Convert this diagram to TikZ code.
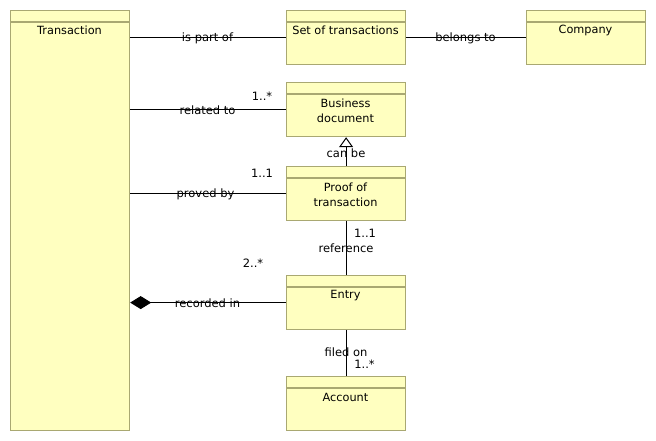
\documentclass[tikz,border=0pt]{standalone}
\usepackage{fontspec}
\setmainfont{DejaVu Sans}
\usetikzlibrary{arrows.meta}
\definecolor{classfill}{HTML}{FFFFC0}
\definecolor{classline}{HTML}{A9A872}
\tikzset{
  classbox/.style={draw=classline, fill=classfill, line width=1.2pt, anchor=north west,
    minimum width=119pt, minimum height=54pt, inner sep=0pt},
  tallbox/.style={classbox, minimum height=420pt},
  classname/.style={font=\fontsize{11.3}{15}\selectfont, align=center, inner sep=0pt},
  assoc/.style={font=\fontsize{11.5}{14}\selectfont, inner sep=0pt},
  assocline/.style={line width=1pt},
}

\begin{document}
\begin{tikzpicture}[x=1pt, y=-1pt]
\useasboundingbox (0,0) rectangle (656,441);

\node[tallbox] (trans) at (10,10) {};
\node[classbox] (set) at (286,10) {};
\node[classbox] (comp) at (526,10) {};
\node[classbox] (bdoc) at (286,82) {};
\node[classbox] (proof) at (286,166) {};
\node[classbox] (entry) at (286,275) {};
\node[classbox] (acct) at (286,376) {};
\foreach \c in {trans, set, comp, bdoc, proof, entry, acct}
  \draw[classline, line width=1.2pt] ([yshift=-12pt]\c.north west) -- ([yshift=-12pt]\c.north east);

\node[classname] (trans-n) at (69.5,30) {Transaction};
\node[classname] (set-n) at (345.5,30) {Set of transactions};
\node[classname] (comp-n) at (585.5,30) {Company};
\node[classname] (bdoc-n) at (345.5,110.5) {Business\\document};
\node[classname] (proof-n) at (345.5,194.5) {Proof of\\transaction};
\node[classname] (entry-n) at (345.5,296) {Entry};
\node[classname] (acct-n) at (345.5,397) {Account};

\draw[assocline] (set.west -| trans.east) -- (set.west) (set.east) -- (comp.west);
\draw[assocline] (bdoc.west -| trans.east) -- (bdoc.west);
\draw[assocline] (proof.west -| trans.east) -- (proof.west);
\draw[assocline, {Diamond[width=13pt, length=21pt]}-] (entry.west -| trans.east) -- (entry.west);
\draw[assocline, -{Triangle[open, width=14pt, length=10pt, fill=white]}] (proof.north) -- (bdoc.south);
\draw[assocline] (proof.south) -- (entry.north) (entry.south) -- (acct.north);

\node[assoc] (l-part) at (207.5,38) {is part of};
\node[assoc] (l-belongs) at (465.5,38) {belongs to};
\node[assoc] (l-related) at (207.5,110) {related to};
\node[assoc] (l-proved) at (205.5,194) {proved by};
\node[assoc] (l-recorded) at (207.5,303) {recorded in};
\node[assoc] (l-canbe) at (346,153) {can be};
\node[assoc] (l-ref) at (346,248) {reference};
\node[assoc] (l-filed) at (346,352) {filed on};

\node[assoc] (m-bdoc) at (262,96) {1..*};
\node[assoc] (m-proof) at (262,173) {1..1};
\node[assoc] (m-entry) at (253,263) {2..*};
\node[assoc] (m-ref) at (365,233) {1..1};
\node[assoc] (m-acct) at (364.5,364) {1..*};
\end{tikzpicture}
\end{document}
